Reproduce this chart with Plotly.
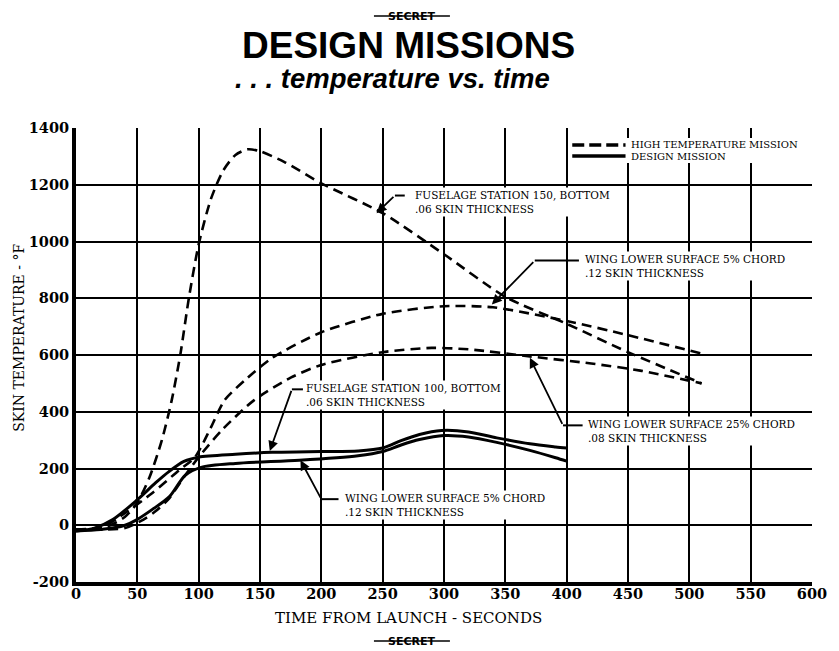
import plotly.graph_objects as go

# ---- data ----
t_fus150 = [0, 25, 40, 50, 60, 70, 78, 85, 92, 100, 110, 120, 130, 140, 150, 170, 200, 250, 300, 350, 400, 450, 510]
T_fus150 = [-15, -5, 30, 80, 170, 300, 440, 600, 800, 990, 1150, 1250, 1305, 1325, 1318, 1280, 1205, 1100, 955, 805, 710, 610, 500]

t_w5_hi = [0, 20, 35, 62, 84, 97, 110, 121, 140, 160, 200, 250, 300, 340, 400, 450, 510]
T_w5_hi = [-15, -10, 28, 113, 194, 240, 345, 440, 520, 590, 680, 745, 772, 768, 720, 670, 605]

t_w25_hi = [0, 40, 55, 65, 76, 89, 100, 120, 145, 175, 200, 250, 290, 320, 370, 420, 460, 510]
T_w25_hi = [-15, -10, 20, 50, 95, 176, 240, 340, 440, 520, 565, 610, 625, 620, 595, 570, 545, 500]

t_fus100 = [0, 15, 30, 50, 65, 76, 88, 100, 130, 160, 200, 230, 250, 265, 280, 298, 320, 343, 370, 391, 400]
T_fus100 = [-20, -10, 20, 90, 150, 190, 225, 240, 250, 257, 260, 262, 272, 298, 320, 334, 329, 308, 287, 276, 272]

t_w5_des = [0, 20, 40, 49, 62, 76, 89, 102, 130, 182, 230, 250, 265, 280, 300, 320, 343, 370, 391, 400]
T_w5_des = [-20, -15, 0, 18, 55, 100, 176, 204, 218, 229, 245, 260, 283, 302, 316, 311, 292, 264, 238, 226]

x_ticks = list(range(0, 601, 50))
y_ticks = list(range(-200, 1401, 200))

legend_names = ["HIGH TEMPERATURE MISSION", "DESIGN MISSION"]

SERIF = "DejaVu Serif"
SANS = "Liberation Sans"
fig = go.Figure()

dash_style = dict(color="black", width=2.6, dash="10px,6px")
solid_style = dict(color="black", width=3)

for tx, ty in [(t_fus150, T_fus150), (t_w5_hi, T_w5_hi), (t_w25_hi, T_w25_hi)]:
    fig.add_trace(go.Scatter(x=tx, y=ty, mode="lines", line=dict(shape="spline", smoothing=0.7, **dash_style),
                             showlegend=False, hoverinfo="skip"))
for tx, ty in [(t_fus100, T_fus100), (t_w5_des, T_w5_des)]:
    fig.add_trace(go.Scatter(x=tx, y=ty, mode="lines", line=dict(shape="spline", smoothing=0.8, **solid_style),
                             showlegend=False, hoverinfo="skip"))


def px(xpx):
    return (xpx - 76) / 746.0


def py(ypx):
    return (582 - ypx) / 454.0


# ---- hand-drawn legend (tight rows as in the reference) ----
fig.add_shape(type="rect", xref="paper", yref="paper", x0=px(575), x1=px(810), y0=py(138), y1=py(163),
              line=dict(width=0), fillcolor="white", layer="above")
fig.add_shape(type="line", xref="paper", yref="paper", x0=px(579), x1=px(633), y0=py(145), y1=py(145),
              line=dict(color="black", width=3.5, dash="12px,5px"), layer="above")
fig.add_shape(type="line", xref="paper", yref="paper", x0=px(579), x1=px(633), y0=py(156), y1=py(156),
              line=dict(color="black", width=3.5), layer="above")
leg_font = dict(family=SERIF, size=10, color="black")
for name, ypos in zip(legend_names, [145, 156]):
    fig.add_annotation(x=px(637), y=py(ypos), xref="paper", yref="paper", text=name, showarrow=False,
                       xanchor="left", yanchor="middle", font=leg_font)

ann_font = dict(family=SERIF, size=10.5, color="black")

# callouts: (text, text_x, text_y, stub_start_x, stub_end_x, stub_y, tip_x, tip_y)
callouts = [
    ("FUSELAGE STATION 150, BOTTOM<br>.06 SKIN THICKNESS", 275, 1140, 268, 260, 1162, 245, 1100),
    ("WING LOWER SURFACE 5% CHORD<br>.12 SKIN THICKNESS", 413, 912, 410, 374, 933, 339, 778),
    ("FUSELAGE STATION 100, BOTTOM<br>.06 SKIN THICKNESS", 186, 460, 185, 176, 479, 158, 262),
    ("WING LOWER SURFACE 25% CHORD<br>.08 SKIN THICKNESS", 416, 333, 413, 397, 352, 370, 590),
    ("WING LOWER SURFACE 5% CHORD<br>.12 SKIN THICKNESS", 218, 72, 214, 200, 92, 183, 229),
]
for text, tx, ty, s0, s1, sy, ax_, ay_ in callouts:
    fig.add_annotation(x=tx, y=ty, xref="x", yref="y", text=text, showarrow=False,
                       xanchor="left", yanchor="middle", align="left", font=ann_font,
                       bgcolor="white", borderpad=1)
    fig.add_shape(type="line", x0=s0, x1=s1, y0=sy, y1=sy, xref="x", yref="y",
                  line=dict(color="black", width=2))
    fig.add_annotation(x=ax_, y=ay_, ax=s1, ay=sy, xref="x", yref="y", axref="x", ayref="y",
                       text="", showarrow=True, arrowhead=2, arrowsize=1.1, arrowwidth=1.8,
                       arrowcolor="black")

# ---- titles ----
def txt(x, y, s, font, **kw):
    fig.add_annotation(x=px(x), y=py(y), xref="paper", yref="paper", text=s, showarrow=False,
                       xanchor="center", yanchor="middle", font=font, **kw)


secret_font = dict(family="DejaVu Sans", size=11, color="black")
txt(416, 16, "<b>SECRET</b>", secret_font)
fig.add_shape(type="line", xref="paper", yref="paper", x0=px(378), x1=px(455), y0=py(16), y1=py(16),
              line=dict(color="black", width=1.5))
txt(413, 46, "<b>DESIGN MISSIONS</b>", dict(family=SANS, size=37, color="black"))
txt(397, 78, "<b><i>. . . temperature vs. time</i></b>", dict(family=SANS, size=27.5, color="black"))
txt(413, 618, "TIME FROM LAUNCH - SECONDS", dict(family=SERIF, size=15, color="black"))
txt(18, 338, "SKIN TEMPERATURE - °F", dict(family=SERIF, size=14, color="black"), textangle=-90)
txt(416, 641, "<b>SECRET</b>", secret_font)
fig.add_shape(type="line", xref="paper", yref="paper", x0=px(378), x1=px(455), y0=py(641), y1=py(641),
              line=dict(color="black", width=1.5))

tick_font = dict(family=SERIF, size=14.5, color="black", weight="bold")
fig.update_layout(
    width=831, height=643,
    margin=dict(l=68, r=17, t=120, b=69),
    paper_bgcolor="white", plot_bgcolor="white",
    showlegend=False,
    xaxis=dict(range=[0, 600], tickvals=x_ticks, ticktext=[str(v) for v in x_ticks],
               showgrid=True, gridcolor="black", gridwidth=1.5, zeroline=False,
               showline=True, linecolor="black", linewidth=4, ticks="",
               ticklabelstandoff=-4, tickfont=tick_font),
    yaxis=dict(range=[-200, 1400], tickvals=y_ticks, ticktext=[str(v) for v in y_ticks],
               showgrid=True, gridcolor="black", gridwidth=1.5, zeroline=False,
               showline=True, linecolor="black", linewidth=4, ticks="",
               tickfont=tick_font),
)

fig.write_html("out.html")
